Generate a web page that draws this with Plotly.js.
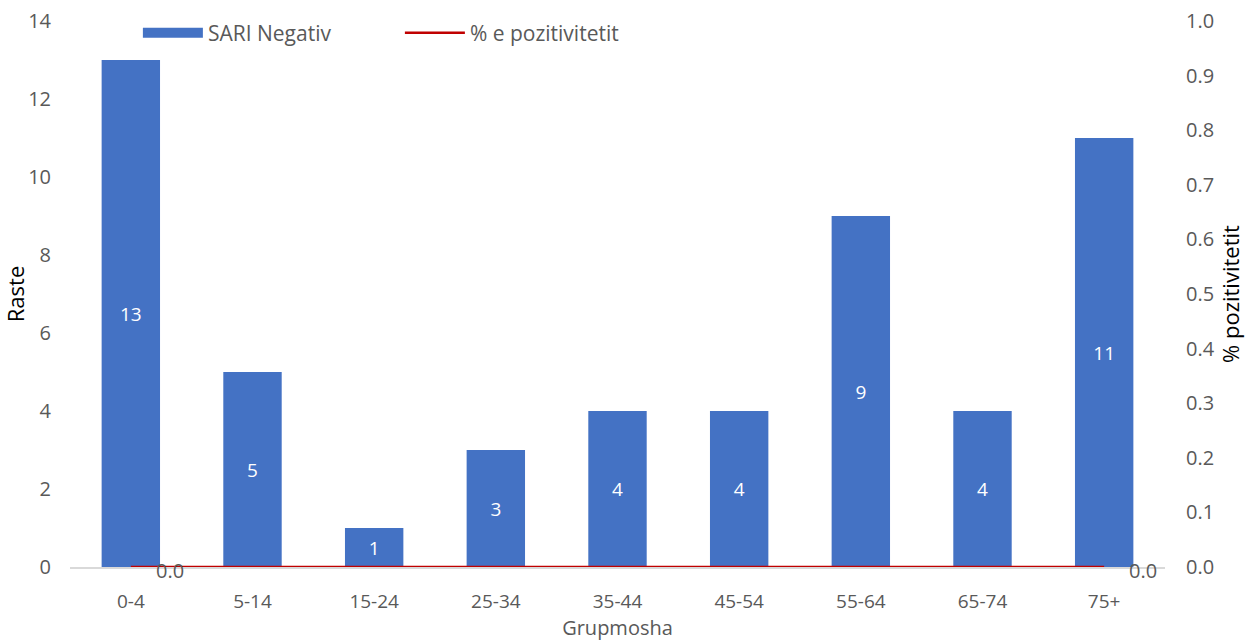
<!DOCTYPE html>
<html>
<head>
<meta charset="utf-8">
<script src="https://cdn.plot.ly/plotly-3.0.1.min.js"></script>
<style>html,body{margin:0;padding:0;background:#fff;}#chart{width:1254px;height:642px;}</style>
</head>
<body>
<div id="chart"></div>
<script>
const categories = ['0-4','5-14','15-24','25-34','35-44','45-54','55-64','65-74','75+'];
const sariNegativ = [13, 5, 1, 3, 4, 4, 9, 4, 11];
const pozitiviteti = [0, 0, 0, 0, 0, 0, 0, 0, 0];
const labeledPoints = [0, 8];

const FONT = 'Open Sans, Liberation Sans, sans-serif';
const GRAY = '#595959';
const BLUE = '#4472C4';

const traces = [
  {
    type: 'bar',
    name: 'SARI Negativ',
    showlegend: false,
    x: categories,
    y: sariNegativ,
    marker: {color: BLUE},
    text: sariNegativ.map(String),
    textposition: 'inside',
    insidetextanchor: 'middle',
    textfont: {color: '#ffffff', size: 19, family: FONT},
    hoverinfo: 'x+y'
  },
  {
    // legend swatch for the bar series (wide rectangle as in the original)
    type: 'scatter',
    mode: 'lines',
    name: 'SARI Negativ',
    x: [categories[0]],
    y: [null],
    line: {color: BLUE, width: 14},
    hoverinfo: 'skip'
  },
  {
    type: 'scatter',
    mode: 'lines',
    name: '% e pozitivitetit',
    x: categories,
    y: pozitiviteti,
    yaxis: 'y2',
    line: {color: '#C00000', width: 2.5}
  }
];

const annotations = labeledPoints.map(i => ({
  x: categories[i], y: pozitiviteti[i], xref: 'x', yref: 'y2',
  text: pozitiviteti[i].toFixed(1), showarrow: false,
  xshift: 39, yshift: -3,
  font: {family: FONT, size: 20, color: GRAY}
}));

const layout = {
  width: 1254, height: 642,
  margin: {l: 70, r: 89, t: 21, b: 75},
  paper_bgcolor: '#ffffff', plot_bgcolor: '#ffffff',
  font: {family: FONT, color: GRAY, size: 20},
  bargap: 0.52,
  showlegend: true,
  legend: {
    orientation: 'h', x: 0.062, xanchor: 'left', y: 0.978, yanchor: 'middle',
    entrywidth: 187, entrywidthmode: 'pixels', itemwidth: 60,
    font: {family: FONT, size: 21, color: GRAY},
    bgcolor: 'rgba(0,0,0,0)', traceorder: 'normal'
  },
  xaxis: {
    type: 'category',
    showgrid: false, zeroline: false,
    showline: true, linecolor: '#d9d9d9', linewidth: 1.5,
    ticks: '', ticklabelstandoff: 17,
    tickfont: {family: FONT, size: 19, color: GRAY},
    title: {text: 'Grupmosha', font: {family: FONT, size: 20, color: GRAY}, standoff: 3}
  },
  yaxis: {
    range: [0, 14], dtick: 2,
    showgrid: false, zeroline: false, showline: false,
    ticks: '', ticklabelstandoff: 18,
    tickfont: {family: FONT, size: 20, color: GRAY},
    title: {text: 'Raste', font: {family: FONT, size: 22, color: '#000000'}, standoff: 0}
  },
  yaxis2: {
    overlaying: 'y', side: 'right',
    range: [0, 1.0], dtick: 0.1, tickformat: '.1f',
    showgrid: false, zeroline: false, showline: false,
    ticks: '', ticklabelstandoff: 20,
    tickfont: {family: FONT, size: 20, color: GRAY},
    title: {text: '% pozitivitetit', font: {family: FONT, size: 22, color: '#000000'}, standoff: 0}
  },
  annotations: annotations
};

Plotly.newPlot('chart', traces, layout, {displayModeBar: false, staticPlot: true});
</script>
</body>
</html>
